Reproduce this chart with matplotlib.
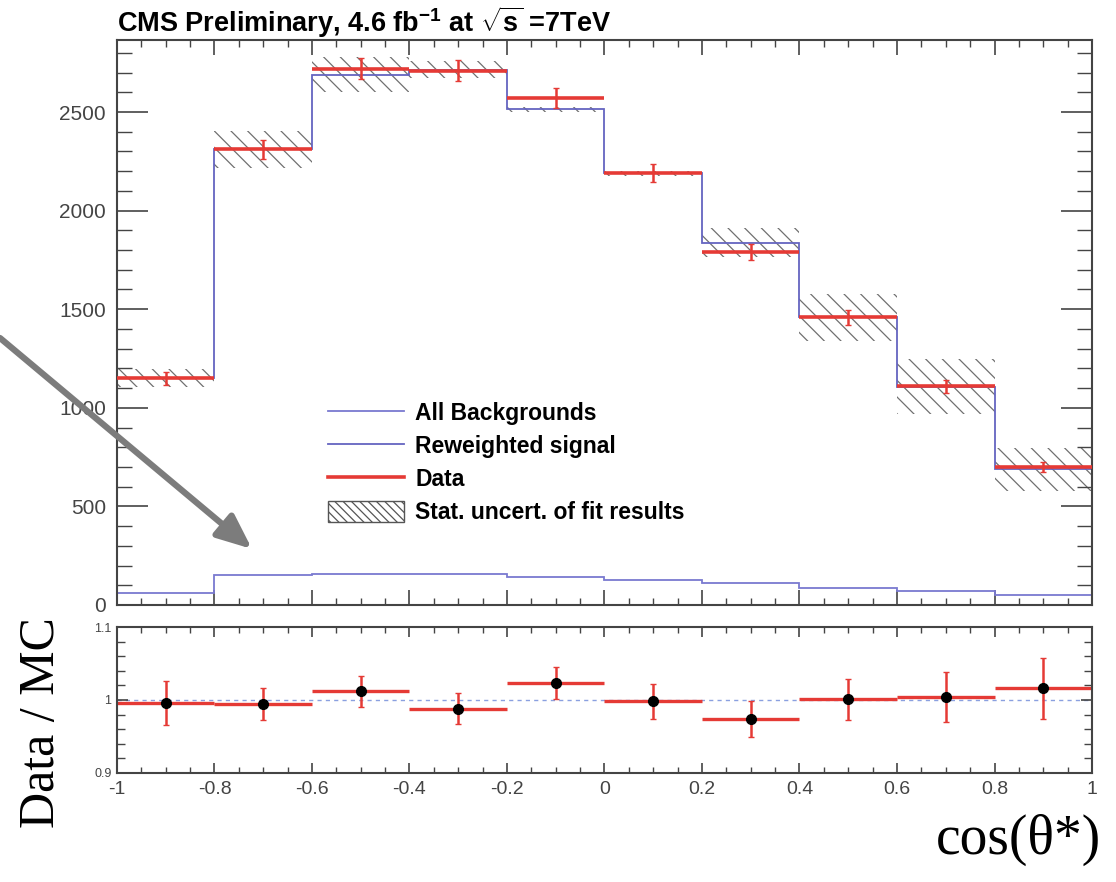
import numpy as np
import matplotlib
matplotlib.use("Agg")
import matplotlib.pyplot as plt
from matplotlib.lines import Line2D
from matplotlib.patches import Patch
from matplotlib.ticker import MultipleLocator

plt.rcParams['font.family'] = ['Liberation Sans', 'DejaVu Sans']
plt.rcParams['mathtext.fontset'] = 'custom'
plt.rcParams['mathtext.rm'] = 'Liberation Sans:bold'
plt.rcParams['mathtext.it'] = 'Liberation Sans:bold'
plt.rcParams['mathtext.bf'] = 'Liberation Sans:bold'
plt.rcParams['hatch.linewidth'] = 0.9

# cos(theta*) bins
edges = [-1.0, -0.8, -0.6, -0.4, -0.2, 0.0, 0.2, 0.4, 0.6, 0.8, 1.0]
centers = [-0.9, -0.7, -0.5, -0.3, -0.1, 0.1, 0.3, 0.5, 0.7, 0.9]

data_counts = [1150, 2310, 2720, 2710, 2570, 2190, 1790, 1460, 1110, 700]
data_err = [34, 48, 52, 52, 51, 47, 42, 38, 33, 26]
mc_total = [1150, 2310, 2690, 2715, 2513, 2190, 1838, 1458, 1107, 688]
mc_unc = [45, 95, 90, 45, 12, 12, 75, 120, 140, 108]
backgrounds = [60, 152, 155, 158, 140, 127, 113, 85, 72, 52]

ratio = [0.996, 0.994, 1.012, 0.988, 1.023, 0.998, 0.974, 1.001, 1.004, 1.016]
ratio_err = [0.030, 0.022, 0.021, 0.021, 0.022, 0.024, 0.025, 0.028, 0.034, 0.042]

red = '#e53a35'
blue = '#6464c0'
axcol = '#444444'
hatchcol = '#707070'

fig = plt.figure(figsize=(11.16, 8.82), dpi=100)
ax = fig.add_axes([0.1048, 0.3141, 0.8737, 0.6405])
rx = fig.add_axes([0.1048, 0.1236, 0.8737, 0.1655])

# main panel
lo = np.array(mc_total) - np.array(mc_unc)
ax.bar(centers, 2 * np.array(mc_unc), width=0.2, bottom=lo, facecolor='none',
       edgecolor=hatchcol, linewidth=0, hatch='\\\\', zorder=1)
ax.stairs(backgrounds, edges, baseline=None, color='#7a7ad0', lw=1.3, zorder=2)
ax.stairs(mc_total, edges, baseline=None, color=blue, lw=1.3, zorder=2)
ax.hlines(data_counts, edges[:-1], edges[1:], color=red, lw=2.6, zorder=3)
ax.errorbar(centers, data_counts, yerr=data_err, fmt='none', ecolor=red,
            elinewidth=1.8, capsize=2, zorder=3)

ax.set_xlim(-1, 1)
ax.set_ylim(0, 2865)
ax.xaxis.set_major_locator(MultipleLocator(0.2))
ax.xaxis.set_minor_locator(MultipleLocator(0.05))
ax.yaxis.set_major_locator(MultipleLocator(500))
ax.yaxis.set_minor_locator(MultipleLocator(100))
ax.tick_params(which='both', direction='in', top=True, right=True, colors=axcol,
               labelbottom=False)
ax.tick_params(axis='x', which='major', length=11, width=1.2)
ax.tick_params(axis='x', which='minor', length=5, width=1.0)
ax.tick_params(axis='y', which='major', length=22, width=1.2, labelsize=15, pad=8)
ax.tick_params(axis='y', which='minor', length=11, width=1.0)
for s in ax.spines.values():
    s.set_color(axcol)
    s.set_linewidth(1.5)

ax.set_title(r"CMS Preliminary, 4.6 fb$^{-1}$ at $\sqrt{s}$ =7TeV",
             fontsize=19.5, fontweight='bold', loc='left', pad=6, x=0.0)

handles = [Line2D([], [], color='#7a7ad0', lw=1.3),
           Line2D([], [], color=blue, lw=1.3),
           Line2D([], [], color=red, lw=2.6),
           Patch(facecolor='white', edgecolor='#555555', hatch='\\\\\\\\', lw=1.0)]
labels = ['All Backgrounds', 'Reweighted signal', 'Data', 'Stat. uncert. of fit results']
ax.legend(handles, labels, loc='upper left', bbox_to_anchor=(0.205, 0.38),
          frameon=False, prop={'weight': 'bold', 'size': 16.5}, handlelength=3.3,
          handletextpad=0.5, labelspacing=0.44, borderpad=0, handleheight=1.0)

# ratio panel
rx.axhline(1.0, color='#8aa0e0', lw=1.0, ls=(0, (3, 3)), zorder=1)
rx.hlines(ratio, edges[:-1], edges[1:], color=red, lw=2.4, zorder=2)
rx.errorbar(centers, ratio, yerr=ratio_err, fmt='o', color='black', ms=7,
            ecolor=red, elinewidth=1.8, capsize=2, zorder=3)
rx.set_xlim(-1, 1)
rx.set_ylim(0.9, 1.1)
rx.xaxis.set_major_locator(MultipleLocator(0.2))
rx.xaxis.set_minor_locator(MultipleLocator(0.05))
rx.yaxis.set_major_locator(MultipleLocator(0.1))
rx.yaxis.set_minor_locator(MultipleLocator(0.02))
rx.set_yticks([0.9, 1.0, 1.1], ['0.9', '1', '1.1'])
rx.tick_params(which='both', direction='in', top=True, right=True, colors=axcol)
rx.tick_params(axis='x', which='major', length=7, width=1.2, labelsize=14, pad=6)
rx.tick_params(axis='x', which='minor', length=4, width=1.0)
rx.tick_params(axis='y', which='major', length=8, width=1.2, labelsize=9, pad=4)
rx.tick_params(axis='y', which='minor', length=6, width=1.0)
rx.set_xticks(edges, ['-1', '-0.8', '-0.6', '-0.4', '-0.2', '0', '0.2', '0.4', '0.6', '0.8', '1'])
for s in rx.spines.values():
    s.set_color(axcol)
    s.set_linewidth(1.5)

fig.text(0.037, 0.181, 'Data / MC', rotation=90, ha='center', va='center',
         fontsize=36, family='Liberation Serif')
fig.text(0.987, 0.018, 'cos(θ*)', ha='right', va='bottom',
         fontsize=40, family='Liberation Serif')

# grey pointer arrow
ax.annotate('', xy=(252, 882 - 549), xytext=(0, 882 - 338),
            xycoords='figure pixels', textcoords='figure pixels',
            arrowprops=dict(arrowstyle='-|>,head_length=1.4,head_width=0.6',
                            color='#7c7c7c', lw=4.5, mutation_scale=15,
                            shrinkA=0, shrinkB=0),
            annotation_clip=False, zorder=10)

fig.savefig('out.png', dpi=100)
